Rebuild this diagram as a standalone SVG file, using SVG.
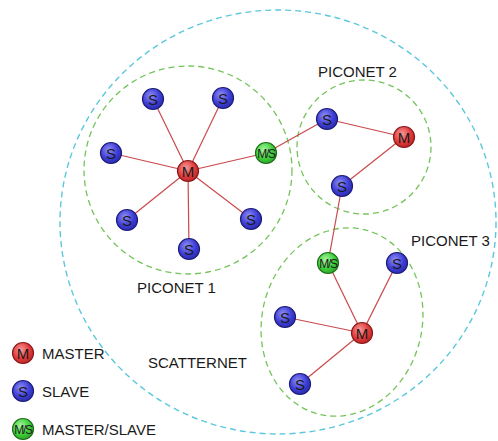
<svg xmlns="http://www.w3.org/2000/svg" width="498" height="441" viewBox="0 0 498 441">
<defs>
<radialGradient id="gS" cx="0.4" cy="0.35" r="0.7"><stop offset="0" stop-color="#8f8ff5"/><stop offset="0.6" stop-color="#3d3dd6"/><stop offset="1" stop-color="#2a2aa8"/></radialGradient>
<radialGradient id="gM" cx="0.4" cy="0.35" r="0.7"><stop offset="0" stop-color="#f59a9a"/><stop offset="0.6" stop-color="#e03a3a"/><stop offset="1" stop-color="#b82424"/></radialGradient>
<radialGradient id="gMS" cx="0.4" cy="0.35" r="0.7"><stop offset="0" stop-color="#a8f5a0"/><stop offset="0.6" stop-color="#3ecf3a"/><stop offset="1" stop-color="#2a9f26"/></radialGradient>
</defs>
<style>
.s{fill:url(#gS);stroke:#1c1c7a;stroke-width:1.2}
.m{fill:url(#gM);stroke:#8a1a1a;stroke-width:1.2}
.ms{fill:url(#gMS);stroke:#1d6e1a;stroke-width:1.2}
.lt{font-family:"Liberation Sans",Arial,sans-serif;font-size:15px;fill:#1a1a1a;text-anchor:middle}
.lms{font-family:"Liberation Sans",Arial,sans-serif;font-size:12px;fill:#1a1a1a;text-anchor:middle;letter-spacing:-1.3px}
.lbl{font-family:"Liberation Sans",Arial,sans-serif;font-size:15px;fill:#1a1a1a}
.pico{fill:none;stroke:#74c35a;stroke-width:1.3;stroke-dasharray:6 4}
.scat{fill:none;stroke:#5cc8dc;stroke-width:1.4;stroke-dasharray:6 4}
.c line{stroke:#c9484c;stroke-width:1.2}
</style>
<g id="scatternet"><ellipse class="scat" cx="278" cy="222" rx="218" ry="212"/><text class="lbl" x="148" y="368">SCATTERNET</text></g>
<g id="piconet1"><circle class="pico" cx="188" cy="170" r="104"/><text class="lbl" x="137" y="293">PICONET 1</text></g>
<g id="piconet2"><circle class="pico" cx="364" cy="147" r="67"/><text class="lbl" x="318" y="77">PICONET 2</text></g>
<g id="piconet3"><ellipse class="pico" cx="342" cy="322" rx="80" ry="95" transform="rotate(14 342 322)"/><text class="lbl" x="411" y="246">PICONET 3</text></g>
<g class="c" id="connectors">
<line x1="188" y1="171" x2="153" y2="99"/>
<line x1="188" y1="171" x2="223" y2="98"/>
<line x1="188" y1="171" x2="111" y2="153"/>
<line x1="188" y1="171" x2="127" y2="220"/>
<line x1="188" y1="171" x2="189" y2="249"/>
<line x1="188" y1="171" x2="251" y2="219"/>
<line x1="188" y1="171" x2="266" y2="153"/>
<line x1="266" y1="153" x2="327" y2="119"/>
<line x1="327" y1="119" x2="404" y2="137"/>
<line x1="404" y1="137" x2="342" y2="186"/>
<line x1="342" y1="186" x2="328" y2="263"/>
<line x1="328" y1="263" x2="362" y2="333"/>
<line x1="397" y1="263" x2="362" y2="333"/>
<line x1="285" y1="317" x2="362" y2="333"/>
<line x1="300" y1="384" x2="362" y2="333"/>
</g>
<g id="p1m"><circle class="m" cx="188" cy="171" r="10.5"/><text class="lt" x="188" y="176.5">M</text></g>
<g id="p1s1"><circle class="s" cx="153" cy="99" r="10.5"/><text class="lt" x="153" y="104.5">S</text></g>
<g id="p1s2"><circle class="s" cx="223" cy="98" r="10.5"/><text class="lt" x="223" y="103.5">S</text></g>
<g id="p1s3"><circle class="s" cx="111" cy="153" r="10.5"/><text class="lt" x="111" y="158.5">S</text></g>
<g id="p1s4"><circle class="s" cx="127" cy="220" r="10.5"/><text class="lt" x="127" y="225.5">S</text></g>
<g id="p1s5"><circle class="s" cx="189" cy="249" r="10.5"/><text class="lt" x="189" y="254.5">S</text></g>
<g id="p1s6"><circle class="s" cx="251" cy="219" r="10.5"/><text class="lt" x="251" y="224.5">S</text></g>
<g id="ms1"><circle class="ms" cx="266" cy="153" r="10.5"/><text class="lms" x="266" y="157.5">M/S</text></g>
<g id="p2s1"><circle class="s" cx="327" cy="119" r="10.5"/><text class="lt" x="327" y="124.5">S</text></g>
<g id="p2m"><circle class="m" cx="404" cy="137" r="10.5"/><text class="lt" x="404" y="142.5">M</text></g>
<g id="p2s2"><circle class="s" cx="342" cy="186" r="10.5"/><text class="lt" x="342" y="191.5">S</text></g>
<g id="ms2"><circle class="ms" cx="328" cy="263" r="10.5"/><text class="lms" x="328" y="267.5">M/S</text></g>
<g id="p3s1"><circle class="s" cx="397" cy="263" r="10.5"/><text class="lt" x="397" y="268.5">S</text></g>
<g id="p3s2"><circle class="s" cx="285" cy="317" r="10.5"/><text class="lt" x="285" y="322.5">S</text></g>
<g id="p3m"><circle class="m" cx="362" cy="333" r="10.5"/><text class="lt" x="362" y="338.5">M</text></g>
<g id="p3s3"><circle class="s" cx="300" cy="384" r="10.5"/><text class="lt" x="300" y="389.5">S</text></g>
<g id="legend-master"><circle class="m" cx="23" cy="353" r="10.5"/><text class="lt" x="23" y="358.5">M</text><text class="lbl" x="42" y="359">MASTER</text></g>
<g id="legend-slave"><circle class="s" cx="23" cy="391" r="10.5"/><text class="lt" x="23" y="396.5">S</text><text class="lbl" x="42" y="397">SLAVE</text></g>
<g id="legend-ms"><circle class="ms" cx="23" cy="429" r="10.5"/><text class="lms" x="23" y="433.5">M/S</text><text class="lbl" x="42" y="435">MASTER/SLAVE</text></g>
</svg>
